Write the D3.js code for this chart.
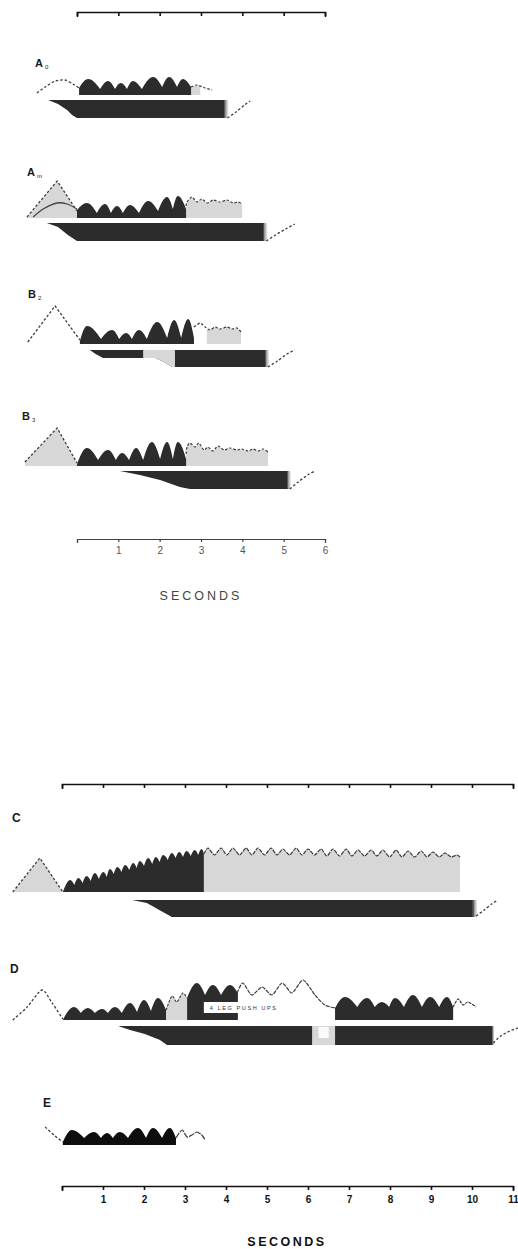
<!DOCTYPE html>
<html><head><meta charset="utf-8">
<script src="https://cdn.jsdelivr.net/npm/d3@7"></script>
<style>body{margin:0;background:#fff}svg{display:block}</style>
</head><body>
<script>
// ================= DATA (time in seconds, heights in trace units) =================
const topTicks = [0,1,2,3,4,5,6];
const topTickLabels = ["","1","2","3","4","5","6"];
const botTicks = [0,1,2,3,4,5,6,7,8,9,10,11];
const botTickLabels = ["","1","2","3","4","5","6","7","8","9","10","11"];
const panelLabels = ["A","A","B","B","C","D","E"];
const panelSubs = ["0","m","2","3","","",""];
const axisTitle = "SECONDS";
const pushUpsText = "4 LEG PUSH UPS";

// A0
const a0Pre = [[-0.97,2],[-0.77,8],[-0.53,14],[-0.29,15],[-0.10,11],[0.05,7]];
const a0Dark = [[0.05,7],[0.27,16],[0.56,6],[0.75,14],[0.92,6],[1.06,12],[1.21,6],[1.35,14],[1.57,6],[1.84,18],[2.06,8],[2.23,18],[2.42,8],[2.56,16],[2.76,8]];
const a0Wave = [[2.76,8],[2.90,10],[3.10,7],[3.27,5]];
const a0WaveFill = [2.76,2.98];
const a0Bar = [[-0.70,0],[-0.46,4],[-0.24,10],[-0.12,15],[0,18],[3.56,18]];
const a0Tail = [[3.64,18],[3.85,12],[4.05,5],[4.19,1]];

// Am
const amPre = [[-1.21,1],[-0.48,37],[0,7]];
const amInner = [[-1.06,1],[-0.82,9],[-0.48,15],[-0.24,14],[0,9]];
const amDark = [[0,8],[0.24,15],[0.48,5],[0.68,14],[0.82,5],[0.97,12],[1.11,5],[1.28,13],[1.50,5],[1.72,17],[1.96,7],[2.18,21],[2.32,9],[2.44,22],[2.64,9]];
const amWave = [[2.64,12],[2.66,16],[2.78,21],[2.90,16],[3.02,19],[3.15,15],[3.29,18],[3.46,16],[3.63,18],[3.77,15],[3.90,16],[4.00,14]];
const amWaveFill = [2.64,4.00];
const amBar = [[-0.73,0],[-0.46,4],[-0.22,12],[0,18],[4.50,18]];
const amTail = [[4.58,18],[4.80,12],[5.05,6],[5.27,1]];

// B2
const b2Pre = [[-1.19,2],[-0.53,38],[0.07,4]];
const b2Dark = [[0.07,3],[0.24,18],[0.58,5],[0.85,14],[1.02,5],[1.19,11],[1.33,5],[1.50,14],[1.69,5],[1.94,22],[2.18,6],[2.35,24],[2.52,6],[2.69,25],[2.83,6]];
const b2Wave = [[2.83,17],[2.98,21],[3.10,17],[3.22,14],[3.34,17],[3.46,15],[3.63,17],[3.75,15],[3.87,16],[3.97,12]];
const b2WaveFill = [3.14,3.97];
const b2Bar = [[0.31,0],[0.45,4],[0.63,8],[1.90,8],[2.10,12],[2.30,17],[4.55,17]];
const b2BarLight = [[1.60,2.37]];
const b2Tail = [[4.62,17],[4.85,11],[5.08,4],[5.27,0]];

// B3
const b3Pre = [[-1.26,4],[-0.48,38],[0,3]];
const b3Dark = [[0,2],[0.24,18],[0.51,6],[0.75,16],[0.94,6],[1.09,13],[1.26,6],[1.43,18],[1.60,6],[1.81,24],[2.01,7],[2.18,24],[2.32,7],[2.44,24],[2.64,7]];
const b3Wave = [[2.64,12],[2.66,19],[2.73,23],[2.85,19],[2.95,23],[3.07,16],[3.17,19],[3.29,15],[3.41,20],[3.56,16],[3.70,18],[3.87,16],[3.99,17],[4.14,15],[4.26,17],[4.38,15],[4.50,17],[4.62,14]];
const b3WaveFill = [2.64,4.62];
const b3Bar = [[1.04,0],[1.52,4],[2.01,9],[2.49,16],[2.73,18],[5.08,18]];
const b3Tail = [[5.15,18],[5.35,11],[5.58,4],[5.76,0]];

// C
const cPre = [[-1.20,0],[-0.54,34],[0.02,0]];
const cDark = [[0.02,0],[0.20,12],[0.30,7],[0.40,14],[0.50,9],[0.60,16],[0.70,11],[0.80,19],[0.90,13],[1.01,20],[1.09,15],[1.17,23],[1.26,18],[1.35,25],[1.45,20],[1.54,27],[1.64,22],[1.74,29],[1.82,24],[1.90,31],[2.00,26],[2.10,34],[2.20,28],[2.29,35],[2.38,30],[2.47,37],[2.58,32],[2.68,39],[2.77,34],[2.86,40],[2.95,35],[3.04,41],[3.14,36],[3.24,42],[3.32,37],[3.41,43],[3.46,38]];
const cWave = [[3.46,38],[3.56,44],[3.72,37],[3.88,44],[4.02,37],[4.17,44],[4.33,37],[4.49,44],[4.63,37],[4.78,44],[4.94,37],[5.10,44],[5.24,37],[5.39,43],[5.55,37],[5.71,44],[5.85,37],[6.00,43],[6.16,37],[6.32,43],[6.46,36],[6.61,43],[6.77,36],[6.93,43],[7.07,36],[7.22,42],[7.38,36],[7.54,42],[7.68,36],[7.83,42],[7.99,35],[8.15,42],[8.29,35],[8.44,41],[8.60,35],[8.76,41],[8.90,35],[9.05,40],[9.20,35],[9.34,39],[9.49,35],[9.63,37],[9.71,35]];
const cWaveFill = [3.46,9.71];
const cBar = [[1.71,0],[2.07,3],[2.46,12],[2.68,17],[10.02,17]];
const cTail = [[10.10,16],[10.30,10],[10.48,4],[10.63,0]];

// D
const dPre = [[-1.20,0],[-0.85,13],[-0.49,30],[-0.24,17],[0.02,1]];
const dDark1 = [[0.02,0],[0.29,13],[0.46,7],[0.63,12],[0.80,7],[0.98,11],[1.12,7],[1.29,13],[1.46,7],[1.66,17],[1.83,8],[2.00,20],[2.17,9],[2.34,22],[2.54,10]];
const dLight1 = [[2.54,10],[2.68,24],[2.80,18],[2.95,27],[3.05,22]];
const dDark2 = [[3.05,22],[3.29,37],[3.49,25],[3.68,35],[3.88,25],[4.10,35],[4.29,27]];
const dBox = [3.46,4.34,7,18];
const dWave = [[4.27,27],[4.41,37],[4.63,25],[4.88,33],[5.12,25],[5.37,37],[5.61,27],[5.88,40],[6.17,25],[6.41,15],[6.66,12]];
const dDark3 = [[6.66,12],[6.90,23],[7.20,13],[7.44,22],[7.63,13],[7.80,18],[7.98,13],[8.12,22],[8.34,13],[8.56,25],[8.78,13],[8.98,23],[9.20,13],[9.39,23],[9.54,13]];
const dWiggle = [[9.54,13],[9.66,21],[9.78,15],[9.90,18],[10.10,13]];
const dBar = [[1.37,0],[1.66,4],[2.02,8],[2.39,14],[2.56,19],[10.49,19]];
const dBarGap = [[6.10,6.66]];
const dTail = [[10.52,17],[10.70,10],[10.92,5],[11.12,2]];

// E
const ePre = [[-0.41,18],[-0.17,9],[0.02,3]];
const eDark = [[0.02,3],[0.24,15],[0.54,7],[0.78,13],[0.95,7],[1.10,12],[1.24,7],[1.41,13],[1.61,7],[1.85,17],[2.05,7],[2.22,17],[2.44,7],[2.63,17],[2.78,7]];
const eWiggle = [[2.78,7],[2.93,15],[3.05,8],[3.17,10],[3.29,13],[3.41,10],[3.49,5]];

// ================= DRAW =================
const W = 518, H = 1249;
const svg = d3.select("body").append("svg").attr("width",W).attr("height",H);
const defs = svg.append("defs");
const DARK = "#2c2c2c", LIGHT = "#d7d7d7", LINE = "#3a3a3a";

const xTop = d3.scaleLinear().domain([0,6]).range([77,325]);
const xBot = d3.scaleLinear().domain([0,11]).range([62,513]);

const grad = defs.append("linearGradient").attr("id","fade");
grad.append("stop").attr("offset","0%").attr("stop-color",DARK);
grad.append("stop").attr("offset","35%").attr("stop-color","#9a9a9a");
grad.append("stop").attr("offset","100%").attr("stop-color","#f2f2f2");

let clipId = 0;
function clipRect(x0,x1,y0,y1){
  const id = "c"+(clipId++);
  defs.append("clipPath").attr("id",id).append("rect").attr("x",x0).attr("y",y0).attr("width",x1-x0).attr("height",y1-y0);
  return "url(#"+id+")";
}

function humpPath(pts, x, y, yB){
  const P = pts.map(([t,h])=>[x(t),y(h)]);
  const p = d3.path();
  p.moveTo(P[0][0], yB);
  p.lineTo(P[0][0], P[0][1]);
  for(let i=0;i+2<P.length;i+=2){
    const [x0,y0]=P[i],[x1,y1]=P[i+1],[x2,y2]=P[i+2];
    p.bezierCurveTo(x0+0.33*(x1-x0), y0-0.52*(y0-y1), x1-0.36*(x1-x0), y1, x1, y1);
    p.bezierCurveTo(x1+0.36*(x2-x1), y1, x2-0.33*(x2-x1), y2-0.52*(y2-y1), x2, y2);
  }
  p.lineTo(P[P.length-1][0], yB);
  p.closePath();
  return p.toString();
}

function panel(cfg){
  const x = cfg.x;
  const y = d3.scaleLinear().domain([0,50]).range([cfg.yBase, cfg.yBase-50]);
  const yb = d3.scaleLinear().domain([0,20]).range([cfg.yBar, cfg.yBar+20]);
  const g = svg.append("g");
  const curve = cfg.preCurve || d3.curveLinear;
  const lineT = d3.line().x(d=>x(d[0])).y(d=>y(d[1]));
  const areaT = d3.area().x(d=>x(d[0])).y0(cfg.yBase).y1(d=>y(d[1]));

  if(cfg.pre && cfg.preFill){
    g.append("path").attr("d", areaT.curve(curve)(cfg.pre)).attr("fill",LIGHT);
  }
  (cfg.waves||[]).forEach(w=>{
    if(w.fill){
      g.append("path").attr("d", areaT.curve(d3.curveCardinal.tension(0.3))(w.pts))
        .attr("fill",LIGHT).attr("clip-path", clipRect(x(w.fill[0]), x(w.fill[1]), cfg.yBase-80, cfg.yBase+1));
    }
  });
  (cfg.dark||[]).forEach(d=>{
    g.append("path").attr("d", humpPath(d, x, y, cfg.yBase)).attr("fill", cfg.darkColor||DARK);
  });
  (cfg.lightHumps||[]).forEach(d=>{
    g.append("path").attr("d", humpPath(d, x, y, cfg.yBase)).attr("fill", LIGHT);
    g.append("path").attr("d", lineT.curve(d3.curveCardinal.tension(0.3))(d)).attr("fill","none")
      .attr("stroke",LINE).attr("stroke-width",1.1).attr("stroke-dasharray","2.5,1.5");
  });
  if(cfg.box){
    const [t0,t1,h0,h1] = cfg.box;
    g.append("rect").attr("x",x(t0)).attr("y",y(h1)).attr("width",x(t1)-x(t0)).attr("height",y(h0)-y(h1)).attr("fill","#fff");
    g.append("text").attr("x",x(t0)+6).attr("y",y((h0+h1)/2)+2)
      .attr("font-family","Liberation Sans, Arial, sans-serif").attr("font-size",5.5)
      .attr("letter-spacing",1.6).attr("fill","#333").text(cfg.boxText);
  }
  if(cfg.pre){
    g.append("path").attr("d", lineT.curve(curve)(cfg.pre)).attr("fill","none")
      .attr("stroke",LINE).attr("stroke-width",1.3).attr("stroke-dasharray","2.5,2");
  }
  if(cfg.inner){
    g.append("path").attr("d", lineT.curve(d3.curveCardinal.tension(0.2))(cfg.inner)).attr("fill","none")
      .attr("stroke","#444").attr("stroke-width",1.3);
  }
  (cfg.waves||[]).forEach(w=>{
    g.append("path").attr("d", lineT.curve(d3.curveCardinal.tension(0.3))(w.pts)).attr("fill","none")
      .attr("stroke",LINE).attr("stroke-width",1.2).attr("stroke-dasharray", w.dash||"2.5,1.8");
  });

  if(cfg.bar){
    const b = cfg.bar;
    const t0 = b[0][0], tEnd = b[b.length-1][0];
    const poly = [[x(t0), yb(0)], [x(tEnd), yb(0)], ...b.slice().reverse().map(d=>[x(d[0]), yb(d[1])])];
    const pd = "M"+poly.map(p=>p.join(",")).join("L")+"Z";
    const id = "bar"+(clipId++);
    defs.append("clipPath").attr("id",id).append("path").attr("d",pd);
    g.append("path").attr("d",pd).attr("fill",DARK);
    (cfg.barLight||[]).forEach(s=>{
      g.append("rect").attr("x",x(s[0])).attr("y",yb(0)).attr("width",x(s[1])-x(s[0])).attr("height",yb(20)-yb(0))
        .attr("fill",LIGHT).attr("clip-path","url(#"+id+")");
    });
    (cfg.barGap||[]).forEach(s=>{
      g.append("rect").attr("x",x(s[0])).attr("y",yb(0)).attr("width",x(s[1])-x(s[0])).attr("height",yb(20)-yb(0))
        .attr("fill",LIGHT).attr("clip-path","url(#"+id+")");
      const xm = (x(s[0])+x(s[1]))/2, w = (x(s[1])-x(s[0]))*0.45;
      g.append("rect").attr("x",xm-w/2).attr("y",yb(1)).attr("width",w).attr("height",yb(12)-yb(1))
        .attr("fill","#fafafa").attr("clip-path","url(#"+id+")");
    });
    const dEnd = b[b.length-1][1];
    g.append("rect").attr("x",x(tEnd)).attr("y",yb(0)).attr("width",x(cfg.tail[0][0])-x(tEnd)+1)
      .attr("height",yb(dEnd)-yb(0)).attr("fill","url(#fade)");
    g.append("path").attr("d", d3.line().x(d=>x(d[0])).y(d=>yb(d[1])).curve(d3.curveCardinal.tension(0.3))(cfg.tail))
      .attr("fill","none").attr("stroke",LINE).attr("stroke-width",1.3).attr("stroke-dasharray","2.5,2");
  }

  const lab = svg.append("text").attr("x",cfg.lx).attr("y",cfg.ly)
    .attr("font-family","Liberation Sans, Arial, sans-serif").attr("font-weight","bold")
    .attr("font-size",cfg.lsize||11).attr("fill","#1a1a1a");
  lab.append("tspan").text(cfg.label);
  if(cfg.sub) lab.append("tspan").attr("font-size",6).attr("dx",2).attr("dy",2).attr("font-weight","normal").text(cfg.sub);
}

// ---------- top figure ----------
panel({x:xTop, yBase:95, yBar:100, label:panelLabels[0], sub:panelSubs[0], lx:35, ly:67,
  pre:a0Pre, preCurve:d3.curveCardinal.tension(0.3), dark:[a0Dark],
  waves:[{pts:a0Wave, fill:a0WaveFill}], bar:a0Bar, tail:a0Tail});
panel({x:xTop, yBase:218, yBar:223, label:panelLabels[1], sub:panelSubs[1], lx:27, ly:176,
  pre:amPre, preFill:true, inner:amInner, dark:[amDark],
  waves:[{pts:amWave, fill:amWaveFill}], bar:amBar, tail:amTail});
panel({x:xTop, yBase:344, yBar:350, label:panelLabels[2], sub:panelSubs[2], lx:28, ly:298,
  pre:b2Pre, dark:[b2Dark],
  waves:[{pts:b2Wave, fill:b2WaveFill}], bar:b2Bar, barLight:b2BarLight, tail:b2Tail});
panel({x:xTop, yBase:466, yBar:471, label:panelLabels[3], sub:panelSubs[3], lx:22, ly:420,
  pre:b3Pre, preFill:true, dark:[b3Dark],
  waves:[{pts:b3Wave, fill:b3WaveFill}], bar:b3Bar, tail:b3Tail});

// ---------- bottom figure ----------
panel({x:xBot, yBase:892, yBar:900, label:panelLabels[4], lx:12, ly:822, lsize:12,
  pre:cPre, preFill:true, dark:[cDark],
  waves:[{pts:cWave, fill:cWaveFill, dash:"4,1"}], bar:cBar, tail:cTail});
panel({x:xBot, yBase:1020, yBar:1026, label:panelLabels[5], lx:10, ly:973, lsize:12,
  pre:dPre, preCurve:d3.curveCardinal.tension(0.3), dark:[dDark1, dDark2, dDark3], lightHumps:[dLight1],
  box:dBox, boxText:pushUpsText,
  waves:[{pts:dWave, dash:"4,1"},{pts:dWiggle, dash:"3,1"}], bar:dBar, barGap:dBarGap, tail:dTail});
panel({x:xBot, yBase:1145, label:panelLabels[6], lx:43, ly:1107, lsize:12, darkColor:"#0e0e0e",
  pre:ePre, preCurve:d3.curveCardinal.tension(0.3), dark:[eDark],
  waves:[{pts:eWiggle, dash:"6,1"}]});

// ---------- axes ----------
function axis(x, ticks, labels, yPos, opts){
  const ax = d3.axisBottom(x).tickValues(ticks).tickSize(opts.ts).tickSizeOuter(opts.ts+1)
    .tickPadding(opts.pad).tickFormat((d,i)=>labels ? labels[i] : "");
  const g = svg.append("g").attr("transform","translate(0,"+yPos+")").call(ax);
  g.select(".domain").attr("stroke",opts.color).attr("stroke-width",opts.sw);
  g.selectAll(".tick line").attr("stroke",opts.color).attr("stroke-width",opts.sw);
  g.selectAll(".tick text").attr("font-family","Liberation Sans, Arial, sans-serif")
    .attr("font-size",opts.fs||10).attr("font-weight",opts.fw||"normal").attr("fill",opts.tc||"#333");
  return g;
}
axis(xTop, topTicks, null, 12, {ts:4, pad:4, color:"#111", sw:1.6});
axis(xTop, topTicks, topTickLabels, 539, {ts:3, pad:5, color:"#444", sw:1.2, fs:10, tc:"#555"});
axis(xBot, botTicks, null, 784, {ts:4, pad:4, color:"#111", sw:1.6});
axis(xBot, botTicks, botTickLabels, 1186, {ts:4, pad:6, color:"#111", sw:1.6, fs:10, fw:"bold", tc:"#111"});

svg.append("text").attr("x",xTop(3)).attr("y",600).attr("text-anchor","middle")
  .attr("font-family","Liberation Sans, Arial, sans-serif").attr("font-size",12.5)
  .attr("letter-spacing",3).attr("fill","#444").text(axisTitle);
svg.append("text").attr("x",287).attr("y",1246).attr("text-anchor","middle")
  .attr("font-family","Liberation Sans, Arial, sans-serif").attr("font-size",12.5).attr("font-weight","bold")
  .attr("letter-spacing",2.5).attr("fill","#111").text(axisTitle);
</script>
</body></html>
